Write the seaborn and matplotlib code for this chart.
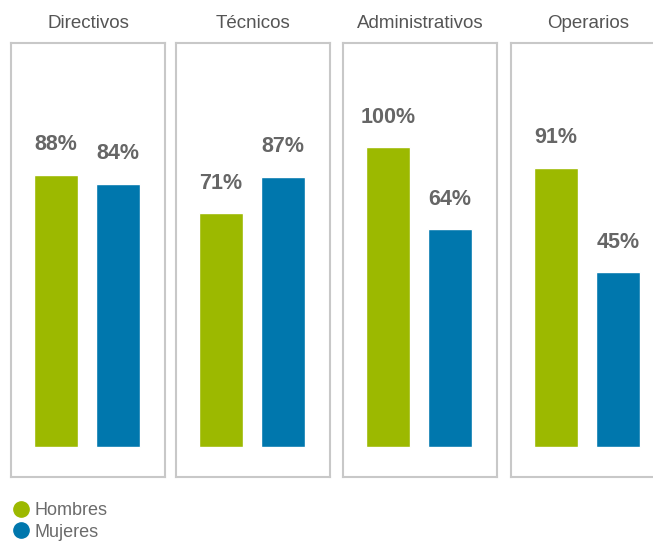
import pandas as pd
import matplotlib.pyplot as plt
import seaborn as sns
from matplotlib.lines import Line2D

categories = ['Directivos', 'Técnicos', 'Administrativos', 'Operarios']
hombres = [88, 71, 100, 91]
mujeres = [84, 87, 64, 45]
sexos = ['Hombres', 'Mujeres']
colors = {'Hombres': '#9cb900', 'Mujeres': '#0077ad'}

# bars in the original start from a raised baseline (axis does not begin at 0)
base = 32

rows = []
for cat, h, m in zip(categories, hombres, mujeres):
    rows.append({'Categoria': cat, 'Sexo': 'Hombres', 'Valor': h})
    rows.append({'Categoria': cat, 'Sexo': 'Mujeres', 'Valor': m})
df = pd.DataFrame(rows)
df['Altura'] = df['Valor'] + base

sns.set_style('white')
plt.rcParams['font.family'] = ['Liberation Sans Narrow', 'Liberation Sans', 'DejaVu Sans']

W, H = 653, 541
fig = plt.figure(figsize=(W / 100, H / 100), dpi=100)

lefts = [11, 176, 343, 511]
box_w, box_top, box_bot = 154, 43, 477
text_grey = '#666666'

for cat, left in zip(categories, lefts):
    ax = fig.add_axes([left / W, 1 - box_bot / H, box_w / W, (box_bot - box_top) / H])
    sub = df[df['Categoria'] == cat]
    sns.barplot(data=sub, x='Sexo', y='Altura', hue='Sexo', order=sexos,
                hue_order=sexos, palette=colors, width=0.71, legend=False,
                errorbar=None, saturation=1, ax=ax)
    ax.set_xlim(-0.726, 1.758)
    ax.set_ylim(-13.2, 178)
    ax.set_xticks([])
    ax.set_yticks([])
    ax.set_xlabel('')
    ax.set_ylabel('')
    for s in ax.spines.values():
        s.set_color('#c8c8c8')
        s.set_linewidth(1.5)
    for i, sx in enumerate(sexos):
        v = sub.loc[sub['Sexo'] == sx, 'Valor'].iloc[0]
        ax.annotate(f'{v}%', (i, v + base), xytext=(0, 14), textcoords='offset points',
                    ha='center', va='bottom', fontsize=15.5, fontweight='bold',
                    color=text_grey)
    ax.text(0.5, 1 + 19 / (box_bot - box_top), cat, transform=ax.transAxes,
            ha='center', va='center', fontsize=13.5, color='#555555')

handles = [Line2D([0], [0], marker='o', linestyle='', markersize=11,
                  markerfacecolor=colors[s], markeredgecolor=colors[s]) for s in sexos]
fig.legend(handles, sexos, loc='upper left', bbox_to_anchor=(6 / W, 1 - 495 / H),
           frameon=False, handlelength=0.9, handletextpad=0.3, labelspacing=0.25,
           fontsize=13, labelcolor='#6b6b6b', borderaxespad=0)

fig.savefig('out.png', dpi=100)
